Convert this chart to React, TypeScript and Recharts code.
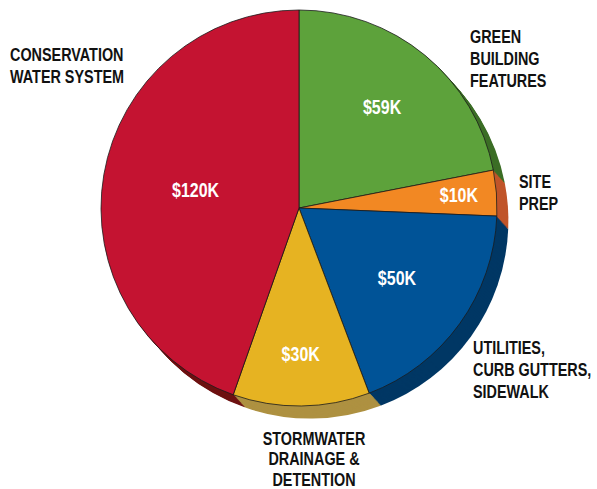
import React from 'react';
import { PieChart, Pie, Cell } from 'recharts';

const categories = [
  'Green Building Features',
  'Site Prep',
  'Utilities, Curb Gutters, Sidewalk',
  'Stormwater Drainage & Detention',
  'Conservation Water System',
];
const values = [59, 10, 50, 30, 120];
const valueLabels = ['$59K', '$10K', '$50K', '$30K', '$120K'];
const categoryLabelLines = [
  ['GREEN', 'BUILDING', 'FEATURES'],
  ['SITE', 'PREP'],
  ['UTILITIES,', 'CURB GUTTERS,', 'SIDEWALK'],
  ['STORMWATER', 'DRAINAGE &', 'DETENTION'],
  ['CONSERVATION', 'WATER SYSTEM'],
];

// styles / layout (kept separate from data)
const COLORS = ['#5DA23B', '#F28823', '#005397', '#E6B322', '#C41331'];
const DARK = ['#3C6E26', '#C0552A', '#003764', '#AE9141', '#6E1212'];
const CX = 299;
const CY = 208;
const R = 198;
const DEPTH = 12;
const INNER_R_FRAC = [0.66, 0.81, 0.61, 0.74, 0.53];
const OUTER_POS: { dx: number; dy: number; anchor: 'start' | 'middle'; lh: number }[] = [
  { dx: 171, dy: -165, anchor: 'start', lh: 22 },
  { dx: 220, dy: -20, anchor: 'start', lh: 22 },
  { dx: 174, dy: 146, anchor: 'start', lh: 22 },
  { dx: 15, dy: 237, anchor: 'middle', lh: 20.5 },
  { dx: -289, dy: -147, anchor: 'start', lh: 22 },
];
const FONT = "'Liberation Sans', Arial, sans-serif";
const OUTER_SCALE = 0.8;
const INNER_SCALE = 0.82;

const data = categories.map((name, i) => ({ name, value: values[i], label: valueLabels[i] }));

const RAD = Math.PI / 180;

const renderLabel = (props: any) => {
  const { cx, cy, midAngle, outerRadius, index } = props;
  const r = outerRadius * INNER_R_FRAC[index];
  const x = cx + r * Math.cos(-midAngle * RAD);
  const y = cy + r * Math.sin(-midAngle * RAD);
  const pos = OUTER_POS[index];
  const lines = categoryLabelLines[index];
  return (
    <g key={`lbl-${index}`}>
      <g transform={`translate(${x},${y}) scale(${INNER_SCALE},1)`}>
        <text
          x={0}
          y={0}
          fill="#ffffff"
          textAnchor="middle"
          dominantBaseline="central"
          fontFamily={FONT}
          fontWeight="bold"
          fontSize={19.5}
        >
          {valueLabels[index]}
        </text>
      </g>
      <g transform={`translate(${cx + pos.dx},${cy + pos.dy}) scale(${OUTER_SCALE},1)`}>
        <text
          x={0}
          y={0}
          fill="#111111"
          textAnchor={pos.anchor}
          fontFamily={FONT}
          fontWeight="bold"
          fontSize={18}
        >
          {lines.map((ln, j) => (
            <tspan key={j} x={0} dy={j === 0 ? 0 : pos.lh}>
              {ln}
            </tspan>
          ))}
        </text>
      </g>
    </g>
  );
};

const depthSteps = Array.from({ length: DEPTH }, (_, k) => DEPTH - k);

export default function App() {
  return (
    <div style={{ position: 'absolute', left: 0, top: 0, width: 597, height: 489, background: '#ffffff' }}>
      <PieChart width={597} height={489} margin={{ top: 0, right: 0, bottom: 0, left: 0 }}>
        {depthSteps.map((s) => (
          <Pie
            key={`depth-${s}`}
            data={data}
            dataKey="value"
            cx={CX + s * 0.95}
            cy={CY + s * 1.05}
            outerRadius={R}
            startAngle={90}
            endAngle={-270}
            stroke="none"
            isAnimationActive={false}
            labelLine={false}
          >
            {data.map((d, i) => (
              <Cell key={i} fill={DARK[i]} />
            ))}
          </Pie>
        ))}
        <Pie
          data={data}
          dataKey="value"
          cx={CX}
          cy={CY}
          outerRadius={R}
          startAngle={90}
          endAngle={-270}
          stroke="#1a1a1a"
          strokeWidth={0.8}
          isAnimationActive={false}
          labelLine={false}
          label={renderLabel}
        >
          {data.map((d, i) => (
            <Cell key={i} fill={COLORS[i]} />
          ))}
        </Pie>
      </PieChart>
    </div>
  );
}
